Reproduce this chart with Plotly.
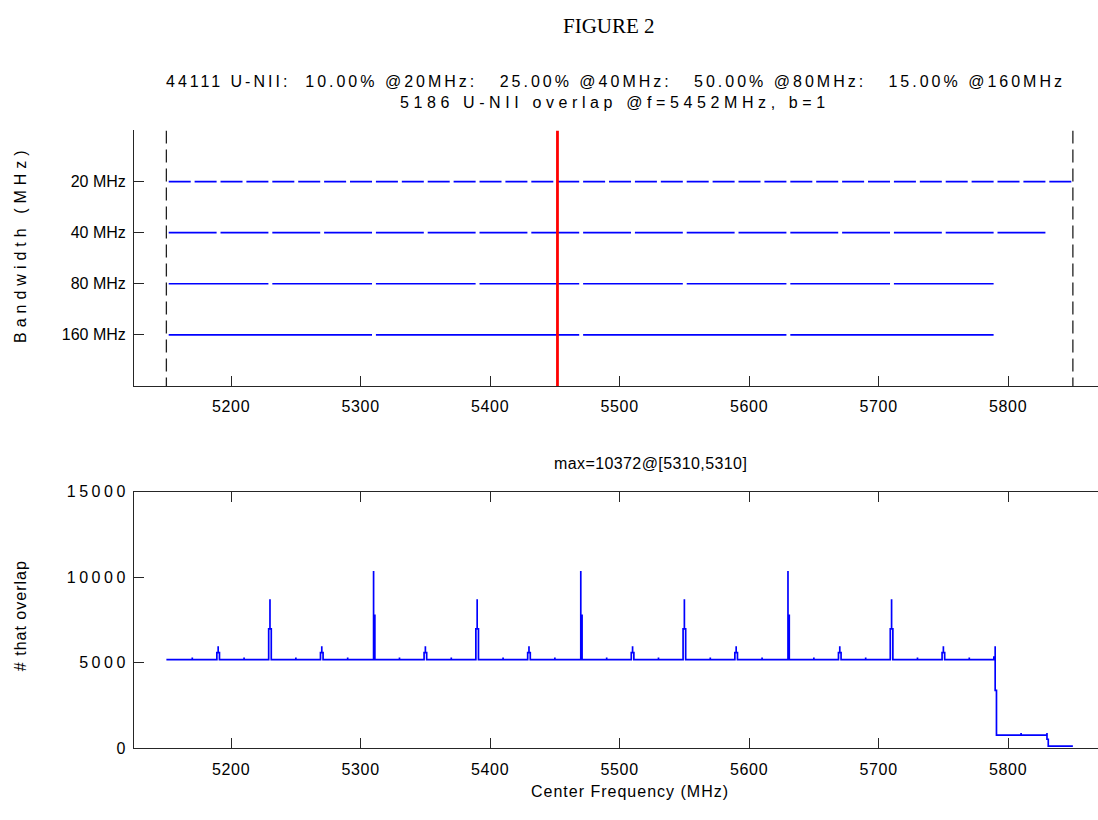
import plotly.graph_objects as go

# ---------------------------------------------------------------- data
band_start = 5150          # MHz, lower edge of the U-NII band
band_end = 5850            # MHz, upper edge of the U-NII band
bandwidths = [20, 40, 80, 160]
bandwidth_labels = ["20 MHz", "40 MHz", "80 MHz", "160 MHz"]
channels_per_bandwidth = [35, 17, 8, 4]
query_freq = 5452          # MHz, frequency examined in the upper panel

freq_ticks = [5200, 5300, 5400, 5500, 5600, 5700, 5800]
count_ticks = [0, 5000, 10000, 15000]

# overlap count between channel edges
base_level = 5186
boundary_freq = [5170, 5190, 5210, 5230, 5250, 5270, 5290, 5310,
                 5330, 5350, 5370, 5390, 5410, 5430, 5450, 5470,
                 5490, 5510, 5530, 5550, 5570, 5590, 5610, 5630,
                 5650, 5670, 5690, 5710, 5730, 5750, 5770, 5790,
                 5810, 5830]
boundary_peak = [5312, 5961, 5312, 8718, 5312, 5961, 5312, 10372,
                 5312, 5961, 5312, 8718, 5312, 5961, 5312, 10372,
                 5312, 5961, 5312, 8718, 5312, 5961, 5312, 10372,
                 5312, 5961, 5312, 8718, 5312, 5961, 5312, 5961,
                 901, 901]
left_shoulder = [5186, 5600, 5186, 6980, 5186, 5600, 5186, 5186,
                 5186, 5600, 5186, 6980, 5186, 5600, 5186, 5186,
                 5186, 5600, 5186, 6980, 5186, 5600, 5186, 5186,
                 5186, 5600, 5186, 6980, 5186, 5600, 5186, 5330,
                 775, 775]
right_shoulder = [5186, 5600, 5186, 6980, 5186, 5600, 5186, 7770,
                  5186, 5600, 5186, 6980, 5186, 5600, 5186, 7770,
                  5186, 5600, 5186, 6980, 5186, 5600, 5186, 7770,
                  5186, 5600, 5186, 6980, 5186, 5600, 5186, 3390,
                  775, 530]
level_after = [5186] * 31 + [775, 775, 126]

# ---------------------------------------------------------------- styling
W, H = 1098, 820
FONT = "Liberation Sans, Arial, Helvetica, sans-serif"
AXIS_COLOR = "#262626"
BLUE = "#0000ff"
CH_GAP_LO = 1.8            # visual gap at the start of each channel bar (MHz)
CH_GAP_HI = 1.2            # visual gap at the end of each channel bar (MHz)
SHOULDER = 1.0             # half-width of the steps beside each edge (MHz)

PX_PER_MHZ = 1.295
X_LEFT_PX = 134
x_range = [5125, 5125 + (W - X_LEFT_PX) / PX_PER_MHZ]


def px_x(px):
    return px / W


def px_y(py):
    return 1 - py / H


def spaced(text, spacing):
    return '<span style="letter-spacing:%gpx">%s</span>' % (spacing, text)


fig = go.Figure()

# ---- upper panel: channel plan per bandwidth
for row, (bw, n) in enumerate(zip(bandwidths, channels_per_bandwidth), start=1):
    xs, ys = [], []
    for k in range(n):
        lo = band_start + k * bw
        xs += [lo + CH_GAP_LO, lo + bw - CH_GAP_HI, None]
        ys += [row, row, None]
    fig.add_trace(go.Scatter(x=xs, y=ys, mode="lines",
                             line=dict(color=BLUE, width=1.7),
                             xaxis="x", yaxis="y", showlegend=False,
                             hoverinfo="skip"))

for edge in (band_start, band_end):
    fig.add_trace(go.Scatter(x=[edge, edge], y=[0, 5], mode="lines",
                             line=dict(color="#202020", width=1.3, dash="13px,6px"),
                             xaxis="x", yaxis="y", showlegend=False,
                             hoverinfo="skip"))

fig.add_trace(go.Scatter(x=[query_freq, query_freq], y=[0, 5], mode="lines",
                         line=dict(color="#ff0000", width=2.8),
                         xaxis="x", yaxis="y", showlegend=False,
                         hoverinfo="skip"))

# ---- lower panel: number of channels overlapping each frequency
cx, cy = [band_start], [base_level]
prev = base_level
for f0, pk, a, b, nxt in zip(boundary_freq, boundary_peak, left_shoulder,
                             right_shoulder, level_after):
    cx += [f0 - SHOULDER, f0 - SHOULDER, f0, f0, f0, f0 + SHOULDER, f0 + SHOULDER]
    cy += [prev, a, a, pk, b, b, nxt]
    prev = nxt
cx.append(band_end)
cy.append(prev)

fig.add_trace(go.Scatter(x=cx, y=cy, mode="lines",
                         line=dict(color=BLUE, width=1.7),
                         xaxis="x2", yaxis="y2", showlegend=False,
                         hoverinfo="skip"))

# ---------------------------------------------------------------- axes
tickfont = dict(family=FONT, size=16, color="#000000")
common_x = dict(range=x_range, tickvals=freq_ticks,
                ticktext=[spaced(str(v), 0.7) for v in freq_ticks],
                ticks="inside", ticklen=10, tickwidth=1, tickcolor=AXIS_COLOR,
                showline=True, linecolor=AXIS_COLOR, linewidth=1,
                showgrid=False, zeroline=False, tickfont=tickfont,
                domain=[px_x(X_LEFT_PX), 1])

fig.update_layout(
    width=W, height=H,
    margin=dict(l=0, r=0, t=0, b=0),
    paper_bgcolor="white", plot_bgcolor="white",
    xaxis=dict(**common_x, anchor="y", ticklabelstandoff=6),
    yaxis=dict(range=[5, 0], tickvals=[1, 2, 3, 4], ticktext=bandwidth_labels,
               ticks="inside", ticklen=10, tickwidth=1, tickcolor=AXIS_COLOR,
               showline=True, linecolor=AXIS_COLOR, linewidth=1,
               showgrid=False, zeroline=False, tickfont=tickfont,
               domain=[px_y(386), px_y(125)], anchor="x", ticklabelstandoff=4),
    xaxis2=dict(**common_x, anchor="y2", mirror="ticks", ticklabelstandoff=6),
    yaxis2=dict(range=[0, 15000], tickvals=count_ticks,
                ticktext=[spaced(str(v), 3.5) for v in count_ticks],
                ticks="inside", ticklen=10, tickwidth=1, tickcolor=AXIS_COLOR,
                showline=True, linecolor=AXIS_COLOR, linewidth=1,
                showgrid=False, zeroline=False, tickfont=tickfont,
                domain=[px_y(756), px_y(494)], anchor="x2", ticklabelstandoff=1),
)

# ---------------------------------------------------------------- text
def label(text, x, y, size=16, family=FONT, angle=0, spacing=0):
    if spacing:
        text = spaced(text, spacing)
    fig.add_annotation(text=text, x=px_x(x), y=px_y(y), xref="paper", yref="paper",
                       showarrow=False, xanchor="center", yanchor="middle",
                       textangle=angle,
                       font=dict(family=family, size=size, color="#000000"))


label("FIGURE 2", 609, 18, size=21,
      family="Liberation Serif, Times New Roman, serif")
label("44111 U-NII:&nbsp; 10.00% @20MHz:&nbsp;&nbsp; 25.00% @40MHz:&nbsp;&nbsp; "
      "50.00% @80MHz:&nbsp;&nbsp; 15.00% @160MHz", 615, 75, spacing=3)
label("5186 U-NII overlap @f=5452MHz, b=1", 615, 97, spacing=4.6)
label("Bandwidth (MHz)", 20, 241, angle=-90, spacing=5)
label("max=10372@[5310,5310]", 650, 465, spacing=0.4)
label("# that overlap", 20, 621, angle=-90, spacing=1)
label("Center Frequency (MHz)", 630, 800, spacing=1)

fig.write_html("out.html")
